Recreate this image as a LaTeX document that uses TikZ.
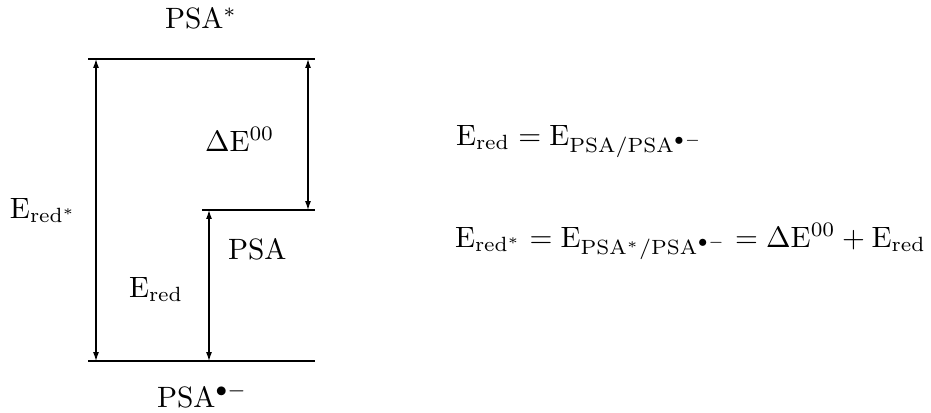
\documentclass[tikz,border=0pt]{standalone}
\usetikzlibrary{arrows.meta}
\begin{document}
\begin{tikzpicture}[x=0.34pt,y=-0.34pt,
  lvl/.style={line width=0.4pt},
  dim/.style={line width=0.4pt,{Latex[length=3pt,width=2pt]}-{Latex[length=3pt,width=2pt]}},
  lab/.style={anchor=base west,inner sep=0pt,outer sep=0pt}]
\useasboundingbox (0,0) rectangle (931,412);
% level lines
\coordinate (t1) at (88,59);  \coordinate (t2) at (315,59);
\coordinate (m1) at (202,210); \coordinate (m2) at (315,210);
\coordinate (b1) at (88,361); \coordinate (b2) at (315,361);
\draw[lvl] (t1) -- (t2);
\draw[lvl] (m1) -- (m2);
\draw[lvl] (b1) -- (b2);
% dimension arrows
\coordinate (la) at (96,59);  \coordinate (lb) at (96,361);
\coordinate (ma) at (209,210); \coordinate (mb) at (209,361);
\coordinate (ra) at (308,59); \coordinate (rb) at (308,210);
\draw[dim] (la) -- (lb);
\draw[dim] (ma) -- (mb);
\draw[dim] (ra) -- (rb);
% labels
\node[lab] (psastar) at (165,28) {PSA$^*$};
\node[lab] (dE) at (205,151) {$\Delta\mathrm{E}^{00}$};
\node[lab] (Eredstar) at (10,218) {$\mathrm{E}_{\mathrm{red}^*}$};
\node[lab] (psa) at (228,259) {PSA};
\node[lab] (Ered) at (129,297) {$\mathrm{E}_{\mathrm{red}}$};
\node[lab] (psarad) at (157,407) {PSA$^{\bullet-}$};
% equations
\node[lab] (eq1) at (456,145) {$\mathrm{E}_{\mathrm{red}}=\mathrm{E}_{\mathrm{PSA/PSA}^{\bullet-}}$};
\node[lab] (eq2) at (455,247) {$\mathrm{E}_{\mathrm{red}^*}=\mathrm{E}_{\mathrm{PSA}^*\mathrm{/PSA}^{\bullet-}}=\Delta\mathrm{E}^{00}+\mathrm{E}_{\mathrm{red}}$};
\end{tikzpicture}
\end{document}
